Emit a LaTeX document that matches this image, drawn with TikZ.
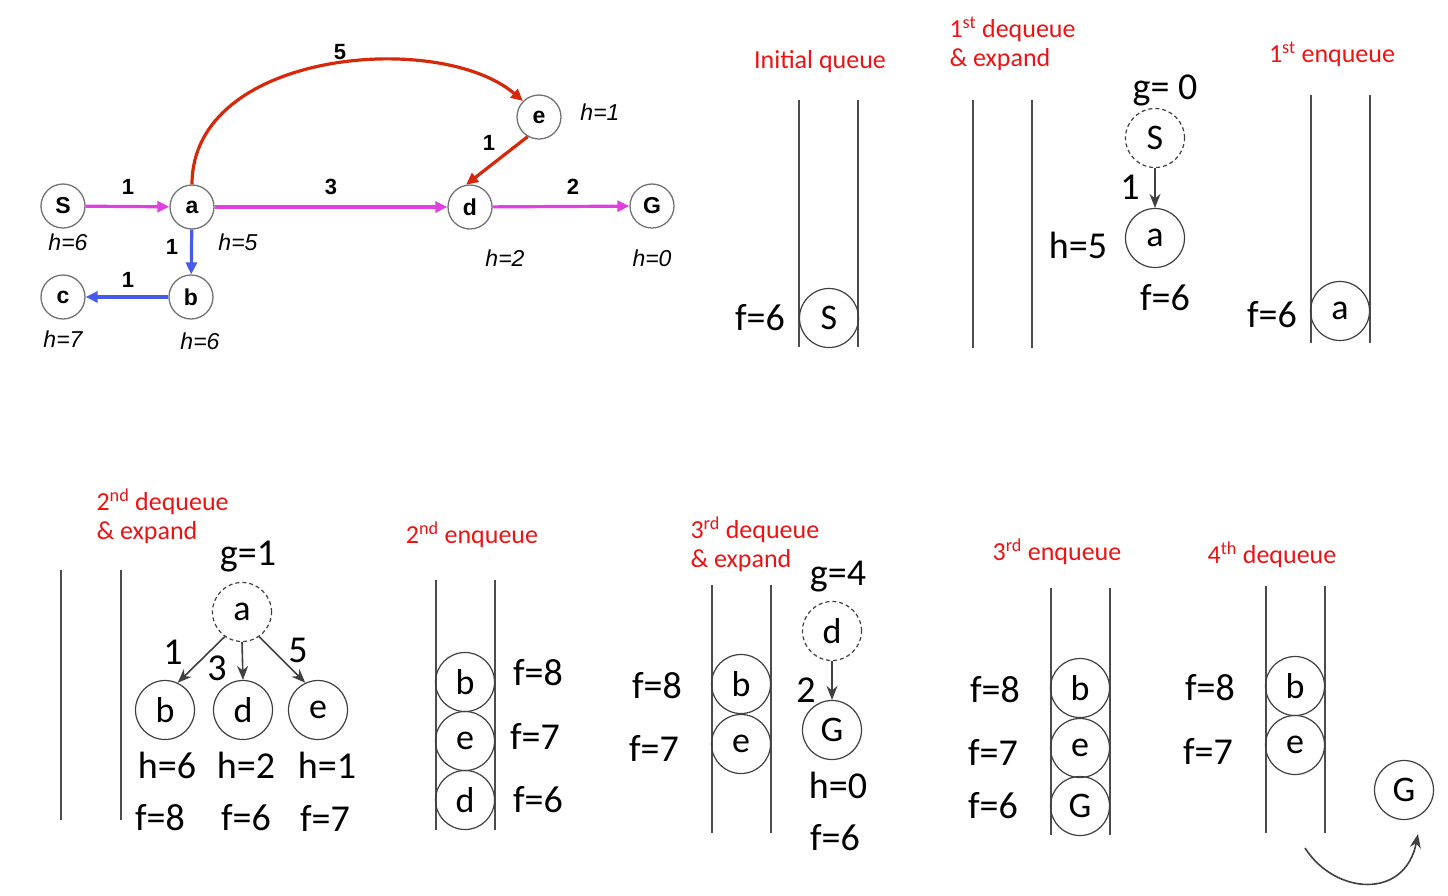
\documentclass[tikz,border=0pt]{standalone}
\usepackage{fontspec}
\setmainfont{Carlito}
\newfontfamily\arialf{Liberation Sans}
\usetikzlibrary{arrows.meta}
\definecolor{magen}{RGB}{224,64,224}
\definecolor{redE}{RGB}{214,40,10}
\definecolor{blueE}{RGB}{70,90,235}
\definecolor{head}{RGB}{235,20,20}
\begin{document}
\begin{tikzpicture}[x=1pt,y=-1pt,
 gn/.style={circle,draw=black!55,line width=1.3pt,fill=white,minimum size=44pt,inner sep=0pt,font=\arialf\bfseries\fontsize{23}{23}\selectfont},
 hl/.style={font=\arialf\itshape\fontsize{23}{23}\selectfont},
 wl/.style={font=\arialf\bfseries\fontsize{22}{22}\selectfont},
 ge/.style={line width=3.2pt,-{Triangle[length=12pt,width=11pt]}},
 qn/.style={circle,draw=black!75,line width=1.2pt,minimum size=59pt,inner sep=0pt,font=\fontsize{36}{36}\selectfont},
 dq/.style={qn,dash pattern=on 4pt off 3pt},
 lab/.style={font=\fontsize{38}{38}\selectfont},
 hd/.style={text=head,font=\fontsize{26}{29}\selectfont,align=left},
 wall/.style={draw=black!70,line width=1.3pt},
 tarr/.style={draw=black!75,line width=1.6pt,-{Stealth[length=14pt,width=11pt]}},
]
\useasboundingbox (0,0) rectangle (1448,895);

% ---------- graph ----------
\node[gn] (S) at (63,206) {S};
\node[gn] (a) at (192,207) {a};
\node[gn] (d) at (470,207) {d};
\node[gn] (G) at (652,206) {G};
\node[gn] (e) at (539,117) {e};
\node[gn] (b) at (191,297) {b};
\node[gn] (c) at (63,297) {c};
\draw[ge,magen] (S) -- (a);
\draw[ge,magen] (a) -- (d);
\draw[ge,magen] (d) -- (G);
\draw[ge,blueE] (a) -- (b);
\draw[ge,blueE] (b) -- (c);
\draw[ge,redE] (e.240) -- (d.100);
\draw[ge,redE] (a.north) .. controls (192,50) and (440,30) .. (e.north west);
\node[wl] (w1) at (128,187) {1};
\node[wl] (w2) at (331,187) {3};
\node[wl] (w3) at (573,187) {2};
\node[wl] (w4) at (340,52) {5};
\node[wl] (w5) at (489,143) {1};
\node[wl] (w6) at (172,247) {1};
\node[wl] (w7) at (128,280) {1};
\node[hl] (hS) at (68,242) {h=6};
\node[hl] (ha) at (238,242) {h=5};
\node[hl] (hd) at (505,258) {h=2};
\node[hl] (hG) at (652,258) {h=0};
\node[hl] (he) at (600,112) {h=1};
\node[hl] (hc) at (63,339) {h=7};
\node[hl] (hb) at (200,341) {h=6};

% ---------- initial queue ----------
\node[hd] (t1) at (820,62) {Initial queue};
\draw[wall] (799,100) -- (799,347);
\draw[wall] (858,100) -- (858,347);
\node[qn] (q1S) at (829,318) {S};
\node[lab] (q1f) at (760,318) {f=6};

% ---------- 1st dequeue ----------
\node[hd,anchor=west] (t2) at (946,44) {1\textsuperscript{st} dequeue\\\& expand};
\draw[wall] (973,100) -- (973,348);
\draw[wall] (1032,100) -- (1032,348);
\node[lab] (g0) at (1165,90) {g= 0};
\node[dq] (xS) at (1155,138) {S};
\node[qn] (xa) at (1155,238) {a};
\draw[tarr] (xS) -- (xa);
\node[lab] (x1) at (1130,187) {1};
\node[lab] (xh) at (1078,245) {h=5};
\node[lab] (xf) at (1165,298) {f=6};

% ---------- 1st enqueue ----------
\node[hd] (t3) at (1332,54) {1\textsuperscript{st} enqueue};
\draw[wall] (1311,95) -- (1311,343);
\draw[wall] (1370,95) -- (1370,343);
\node[qn] (q3a) at (1340,311) {a};
\node[lab] (q3f) at (1272,315) {f=6};

% ---------- 2nd dequeue ----------
\node[hd,anchor=west] (t4) at (93,516) {2\textsuperscript{nd} dequeue\\\& expand};
\draw[wall] (61,570) -- (61,820);
\draw[wall] (121,570) -- (121,820);
\node[lab] (g1) at (248,557) {g=1};
\node[dq] (ya) at (242,612) {a};
\node[qn] (yb) at (165,710) {b};
\node[qn] (yd) at (243,710) {d};
\node[qn] (ye) at (318,710) {e};
\draw[tarr] (ya.235) -- (yb.65);
\draw[tarr] (ya.south) -- (yd.north);
\draw[tarr] (ya.305) -- (ye.115);
\node[lab] (y1) at (173,652) {1};
\node[lab] (y3) at (217,668) {3};
\node[lab] (y5) at (298,650) {5};
\node[lab] (yhb) at (167,765) {h=6};
\node[lab] (yhd) at (246,765) {h=2};
\node[lab] (yhe) at (327,765) {h=1};
\node[lab] (yfb) at (160,818) {f=8};
\node[lab] (yfd) at (246,818) {f=6};
\node[lab] (yfe) at (325,818) {f=7};

% ---------- 2nd enqueue ----------
\node[hd] (t5) at (472,535) {2\textsuperscript{nd} enqueue};
\draw[wall] (436,580) -- (436,830);
\draw[wall] (495,580) -- (495,830);
\node[qn] (q5b) at (465,682) {b};
\node[qn] (q5e) at (465,741) {e};
\node[qn] (q5d) at (465,800) {d};
\node[lab] (q5fb) at (538,673) {f=8};
\node[lab] (q5fe) at (535,736) {f=7};
\node[lab] (q5fd) at (538,800) {f=6};

% ---------- 3rd dequeue ----------
\node[hd,anchor=west] (t6) at (687,544) {3\textsuperscript{rd} dequeue\\\& expand};
\draw[wall] (712,585) -- (712,833);
\draw[wall] (771,585) -- (771,833);
\node[qn] (q6b) at (741,684) {b};
\node[qn] (q6e) at (741,744) {e};
\node[lab] (q6fb) at (657,686) {f=8};
\node[lab] (q6fe) at (654,748) {f=7};
\node[lab] (g4) at (838,577) {g=4};
\node[dq] (zd) at (832,631) {d};
\node[qn] (zG) at (832,730) {G};
\draw[tarr] (zd) -- (zG);
\node[lab] (z2) at (806,690) {2};
\node[lab] (zh) at (838,785) {h=0};
\node[lab] (zf) at (835,838) {f=6};

% ---------- 3rd enqueue ----------
\node[hd] (t7) at (1057,552) {3\textsuperscript{rd} enqueue};
\draw[wall] (1051,588) -- (1051,835);
\draw[wall] (1110,588) -- (1110,835);
\node[qn] (q7b) at (1080,688) {b};
\node[qn] (q7e) at (1080,748) {e};
\node[qn] (q7G) at (1080,806) {G};
\node[lab] (q7fb) at (995,690) {f=8};
\node[lab] (q7fe) at (993,752) {f=7};
\node[lab] (q7fG) at (993,806) {f=6};

% ---------- 4th dequeue ----------
\node[hd] (t8) at (1272,555) {4\textsuperscript{th} dequeue};
\draw[wall] (1266,586) -- (1266,833);
\draw[wall] (1325,586) -- (1325,833);
\node[qn] (q8b) at (1295,686) {b};
\node[qn] (q8e) at (1295,745) {e};
\node[lab] (q8fb) at (1210,688) {f=8};
\node[lab] (q8fe) at (1208,751) {f=7};
\node[qn] (q8G) at (1404,790) {G};
\coordinate (cs) at (1305,848);
\coordinate (ce) at (1418,834);
\draw[tarr] (cs) .. controls (1335,895) and (1405,900) .. (ce);
\end{tikzpicture}
\end{document}
